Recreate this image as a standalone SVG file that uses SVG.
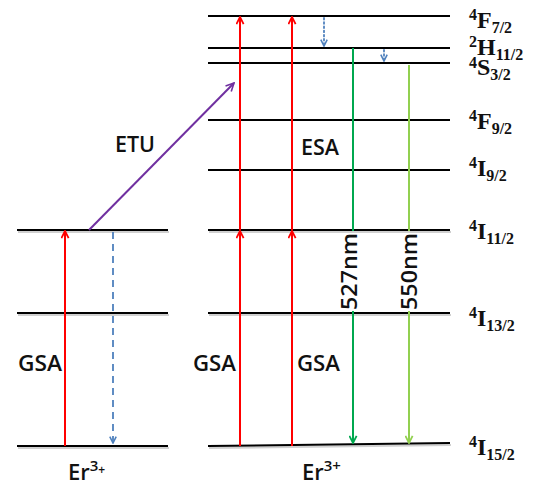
<svg xmlns="http://www.w3.org/2000/svg" width="534" height="489" viewBox="0 0 534 489">
  <style>
    .level { stroke: #000; stroke-width: 2; fill: none; }
    .shade { stroke: #d0d0d0; stroke-width: 2; fill: none; }
    .lbl { font-family: "Open Sans", Lato, "Liberation Sans", sans-serif; font-size: 22px; font-weight: 600; fill: #111; }
    .term { font-family: "Liberation Serif", "Times New Roman", serif; font-weight: bold; font-size: 24px; fill: #111; }
    .term .s { font-size: 16px; }
    .red { stroke: #ff0000; stroke-width: 2; fill: none; }
    .grn { stroke: #00a84f; stroke-width: 2; fill: none; }
    .lgrn { stroke: #92d050; stroke-width: 2; fill: none; }
    .blue { stroke: #4f81bd; stroke-width: 1.8; fill: none; }
    .purple { stroke: #7030a0; stroke-width: 2; fill: none; }
  </style>
  <defs>
    <marker id="ah-red" viewBox="0 0 10 10" refX="9" refY="5" markerWidth="9" markerHeight="9" orient="auto" markerUnits="userSpaceOnUse">
      <path d="M1,1 L9,5 L1,9" fill="none" stroke="#ff0000" stroke-width="2"/>
    </marker>
    <marker id="ah-grn" viewBox="0 0 10 10" refX="9" refY="5" markerWidth="9" markerHeight="9" orient="auto" markerUnits="userSpaceOnUse">
      <path d="M1,1 L9,5 L1,9" fill="none" stroke="#00a84f" stroke-width="2"/>
    </marker>
    <marker id="ah-lgrn" viewBox="0 0 10 10" refX="9" refY="5" markerWidth="9" markerHeight="9" orient="auto" markerUnits="userSpaceOnUse">
      <path d="M1,1 L9,5 L1,9" fill="none" stroke="#92d050" stroke-width="2"/>
    </marker>
    <marker id="ah-blue" viewBox="0 0 10 10" refX="9" refY="5" markerWidth="8" markerHeight="8" orient="auto" markerUnits="userSpaceOnUse">
      <path d="M1,1 L9,5 L1,9" fill="none" stroke="#4f81bd" stroke-width="2"/>
    </marker>
    <marker id="ah-purple" viewBox="0 0 10 10" refX="9" refY="5" markerWidth="10" markerHeight="10" orient="auto" markerUnits="userSpaceOnUse">
      <path d="M1,1 L9,5 L1,9" fill="none" stroke="#7030a0" stroke-width="1.6"/>
    </marker>
  </defs>
  <rect width="534" height="489" fill="#fff"/>

  <!-- Left ion: three levels -->
  <g id="left-I11">
    <line class="shade" x1="18" y1="232" x2="169" y2="232"/>
    <line class="level" x1="17" y1="230" x2="168" y2="230"/>
  </g>
  <g id="left-I13">
    <line class="shade" x1="18" y1="315" x2="169" y2="315"/>
    <line class="level" x1="17" y1="313" x2="168" y2="313"/>
  </g>
  <g id="left-I15">
    <line class="shade" x1="18" y1="448" x2="169" y2="448"/>
    <line class="level" x1="17" y1="446" x2="168" y2="446"/>
  </g>

  <!-- Right ion: full level ladder with term symbols -->
  <g id="F72">
    <line class="level" x1="208" y1="16" x2="450" y2="16"/>
    <text class="term" x="469" y="28"><tspan class="s" dy="-8">4</tspan><tspan dy="8">F</tspan><tspan class="s" dy="5">7/2</tspan></text>
  </g>
  <g id="H112">
    <line class="level" x1="208" y1="48" x2="450" y2="48"/>
    <text class="term" x="469" y="55"><tspan class="s" dy="-8">2</tspan><tspan dy="8">H</tspan><tspan class="s" dy="5">11/2</tspan></text>
  </g>
  <g id="S32">
    <line class="level" x1="208" y1="63" x2="450" y2="63"/>
    <text class="term" x="469" y="75"><tspan class="s" dy="-7">4</tspan><tspan dy="7">S</tspan><tspan class="s" dy="5">3/2</tspan></text>
  </g>
  <g id="F92">
    <line class="level" x1="208" y1="120" x2="450" y2="120"/>
    <text class="term" x="469" y="129"><tspan class="s" dy="-8">4</tspan><tspan dy="8">F</tspan><tspan class="s" dy="5">9/2</tspan></text>
  </g>
  <g id="I92">
    <line class="level" x1="208" y1="170" x2="450" y2="170"/>
    <text class="term" x="469" y="176"><tspan class="s" dy="-8">4</tspan><tspan dy="8">I</tspan><tspan class="s" dy="5">9/2</tspan></text>
  </g>
  <g id="I112">
    <line class="shade" x1="209" y1="232" x2="451" y2="232"/>
    <line class="level" x1="208" y1="230" x2="450" y2="230"/>
    <text class="term" x="469" y="239"><tspan class="s" dy="-8">4</tspan><tspan dy="8">I</tspan><tspan class="s" dy="5">11/2</tspan></text>
  </g>
  <g id="I132">
    <line class="shade" x1="209" y1="315" x2="451" y2="315"/>
    <line class="level" x1="208" y1="313" x2="450" y2="313"/>
    <text class="term" x="469" y="326"><tspan class="s" dy="-8">4</tspan><tspan dy="8">I</tspan><tspan class="s" dy="5">13/2</tspan></text>
  </g>
  <g id="I152">
    <line class="shade" x1="209" y1="448" x2="451" y2="445"/>
    <line class="level" x1="208" y1="446" x2="450" y2="443"/>
    <text class="term" x="469" y="455"><tspan class="s" dy="-8">4</tspan><tspan dy="8">I</tspan><tspan class="s" dy="5">15/2</tspan></text>
  </g>

  <!-- Transitions -->
  <g id="connectors">
    <!-- ground state absorption, left ion -->
    <line class="red" x1="65" y1="446" x2="65" y2="231" marker-end="url(#ah-red)"/>
    <!-- non-radiative relaxation, left ion -->
    <line class="blue" x1="113" y1="232" x2="113" y2="443" stroke-dasharray="7,5" marker-end="url(#ah-blue)"/>
    <!-- energy transfer upconversion -->
    <line class="purple" x1="89" y1="230" x2="234" y2="83" marker-end="url(#ah-purple)"/>
    <!-- GSA + ESA, right ion -->
    <line class="red" x1="240" y1="446" x2="240" y2="231" marker-end="url(#ah-red)"/>
    <line class="red" x1="240" y1="230" x2="240" y2="17" marker-end="url(#ah-red)"/>
    <line class="red" x1="292" y1="446" x2="292" y2="231" marker-end="url(#ah-red)"/>
    <line class="red" x1="292" y1="230" x2="292" y2="17" marker-end="url(#ah-red)"/>
    <!-- non-radiative decay between upper levels -->
    <line class="blue" x1="324" y1="18" x2="324" y2="46" stroke-dasharray="1.6,2.6" stroke-linecap="round" marker-end="url(#ah-blue)"/>
    <line class="blue" x1="384" y1="50" x2="384" y2="61" stroke-dasharray="1.6,2.6" stroke-linecap="round" marker-end="url(#ah-blue)"/>
    <!-- green emissions -->
    <line class="grn" x1="353" y1="48" x2="353" y2="231"/>
    <line class="grn" x1="353" y1="311" x2="353" y2="443" marker-end="url(#ah-grn)"/>
    <line class="lgrn" x1="409" y1="65" x2="409" y2="231"/>
    <line class="lgrn" x1="409" y1="311" x2="409" y2="443" marker-end="url(#ah-lgrn)"/>
  </g>

  <!-- Process labels -->
  <g id="labels">
    <text class="lbl" x="115" y="152" textLength="40" lengthAdjust="spacingAndGlyphs">ETU</text>
    <text class="lbl" x="301" y="155" textLength="38" lengthAdjust="spacingAndGlyphs">ESA</text>
    <text class="lbl" x="18" y="371" textLength="44" lengthAdjust="spacingAndGlyphs">GSA</text>
    <text class="lbl" x="193" y="371" textLength="43" lengthAdjust="spacingAndGlyphs">GSA</text>
    <text class="lbl" x="297" y="371" textLength="43" lengthAdjust="spacingAndGlyphs">GSA</text>
    <text class="lbl" transform="translate(357,310) rotate(-90)" x="0" y="0" textLength="77" lengthAdjust="spacingAndGlyphs">527nm</text>
    <text class="lbl" transform="translate(417,310) rotate(-90)" x="0" y="0" textLength="77" lengthAdjust="spacingAndGlyphs">550nm</text>
    <text class="lbl" x="68" y="480" font-size="23">Er<tspan font-size="15" dy="-9">3</tspan><tspan font-size="12" dy="3">+</tspan></text>
    <text class="lbl" x="302" y="480" font-size="23">Er<tspan font-size="15" dy="-9">3+</tspan></text>
  </g>
</svg>
